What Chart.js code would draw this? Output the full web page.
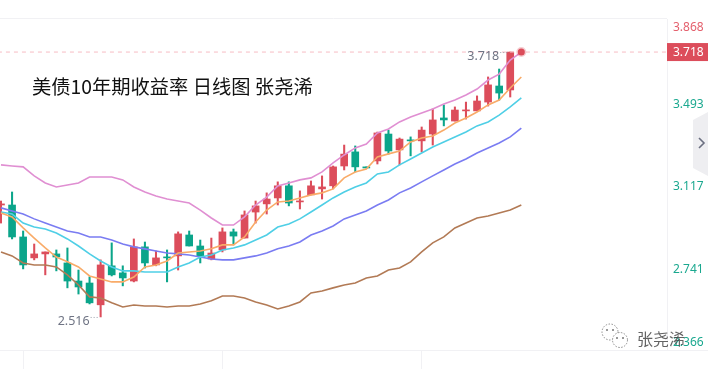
<!DOCTYPE html>
<html><head><meta charset="utf-8">
<style>html,body{margin:0;padding:0;background:#fff;overflow:hidden}canvas{display:block}</style>
<script src="https://cdn.jsdelivr.net/npm/chart.js@4"></script>
</head><body><canvas id="c" width="708" height="369"></canvas>
<script>
const titleText = '美债10年期收益率 日线图 张尧浠';
const watermarkText = '张尧浠';
const tickValues = [3.868, 3.493, 3.117, 2.741, 2.366];
const dateTicks = [2, 20, 38];
const lastPrice = 3.718;
const lowPrice = 2.516;
const opens = [3.024,3.024,2.879,2.784,2.802,2.802,2.761,2.679,2.670,2.571,2.748,2.716,2.679,2.834,2.752,2.788,2.793,2.888,2.838,2.779,2.820,2.902,2.874,2.992,3.029,3.056,3.111,3.038,3.070,3.097,3.111,3.201,3.265,3.197,3.224,3.346,3.274,3.319,3.315,3.346,3.419,3.405,3.451,3.451,3.491,3.564,3.546];
const closes = [3.029,2.879,2.752,2.802,2.811,2.788,2.679,2.652,2.580,2.752,2.707,2.693,2.834,2.761,2.784,2.784,2.893,2.838,2.793,2.806,2.902,2.883,2.979,3.020,3.051,3.111,3.033,3.042,3.111,3.106,3.197,3.255,3.197,3.192,3.351,3.269,3.323,3.315,3.364,3.410,3.410,3.455,3.455,3.496,3.569,3.532,3.718];
const highs = [3.042,3.083,2.906,2.847,2.811,2.820,2.829,2.729,2.698,2.775,2.852,2.748,2.870,2.856,2.815,2.820,2.902,2.906,2.865,2.874,2.920,2.915,2.997,3.042,3.079,3.129,3.129,3.088,3.133,3.156,3.201,3.296,3.292,3.197,3.355,3.364,3.328,3.333,3.378,3.460,3.478,3.469,3.491,3.519,3.605,3.641,3.718];
const lows = [2.942,2.870,2.734,2.775,2.707,2.725,2.648,2.620,2.575,2.516,2.702,2.657,2.675,2.738,2.748,2.675,2.729,2.838,2.761,2.775,2.811,2.843,2.874,2.942,2.983,3.024,3.020,3.006,3.070,3.051,3.097,3.183,3.174,3.192,3.210,3.255,3.206,3.247,3.265,3.296,3.383,3.405,3.414,3.451,3.473,3.500,3.514];
const upperBand = [3.206,3.201,3.197,3.156,3.124,3.106,3.115,3.124,3.151,3.151,3.151,3.138,3.106,3.083,3.065,3.051,3.042,3.033,3.001,2.965,2.933,2.933,2.970,3.024,3.060,3.110,3.124,3.138,3.147,3.174,3.215,3.251,3.283,3.301,3.351,3.369,3.401,3.423,3.442,3.460,3.482,3.500,3.523,3.550,3.591,3.618,3.682,3.718];
const ma5 = [2.988,2.970,2.920,2.874,2.829,2.788,2.766,2.743,2.702,2.688,2.675,2.675,2.697,2.743,2.752,2.770,2.806,2.811,2.815,2.825,2.843,2.843,2.879,2.947,3.001,3.038,3.042,3.056,3.070,3.079,3.097,3.147,3.174,3.187,3.242,3.256,3.269,3.310,3.328,3.337,3.364,3.396,3.419,3.446,3.478,3.500,3.555,3.605];
const ma10 = [2.992,2.983,2.942,2.924,2.915,2.897,2.870,2.838,2.802,2.770,2.743,2.725,2.725,2.720,2.720,2.720,2.743,2.761,2.788,2.797,2.820,2.829,2.843,2.865,2.888,2.924,2.938,2.961,2.992,3.024,3.056,3.083,3.106,3.124,3.165,3.174,3.206,3.233,3.260,3.287,3.310,3.333,3.355,3.383,3.401,3.432,3.469,3.510];
const ma20 = [3.011,2.997,2.983,2.961,2.942,2.924,2.906,2.897,2.879,2.879,2.865,2.847,2.834,2.825,2.815,2.806,2.802,2.797,2.788,2.779,2.775,2.775,2.784,2.793,2.806,2.825,2.838,2.856,2.888,2.906,2.929,2.961,2.979,2.997,3.024,3.047,3.079,3.101,3.129,3.156,3.183,3.210,3.233,3.260,3.283,3.305,3.333,3.373];
const lowerBand = [2.811,2.793,2.761,2.752,2.752,2.743,2.707,2.661,2.607,2.602,2.580,2.561,2.570,2.566,2.566,2.561,2.566,2.566,2.575,2.589,2.611,2.611,2.602,2.584,2.570,2.552,2.566,2.584,2.625,2.634,2.648,2.661,2.670,2.693,2.702,2.729,2.738,2.766,2.811,2.852,2.879,2.920,2.942,2.965,2.974,2.988,3.001,3.024];

const RED = '#dc4d5b', GREEN = '#0ba58a', TEAL = '#1aa88f', GRAY = '#6f7484', EDGE = '#f1f1f4';
const colors = opens.map((o, i) => closes[i] >= o ? RED : GREEN);
const toXY = arr => arr.map((y, x) => ({x, y}));
const lineDs = (data, color) => ({type:'line', data:toXY(data), borderColor:color, borderWidth:1.6, pointRadius:0, tension:0, order:1});

const decor = {
  id:'decor',
  beforeDraw(c){
    const x = c.ctx, a = c.chartArea;
    x.save();
    x.strokeStyle = EDGE; x.lineWidth = 1;
    x.beginPath(); x.moveTo(0, a.top - .5); x.lineTo(a.right, a.top - .5);
    x.moveTo(0, a.bottom + .5); x.lineTo(708, a.bottom + .5); x.stroke();
    x.restore();
  },
  afterDraw(c){
    const x = c.ctx, ys = c.scales.y, xs = c.scales.x;
    x.save();
    // title
    x.fillStyle = '#111'; x.textBaseline = 'middle'; x.textAlign = 'left';
    x.font = '19.3px "Noto Sans CJK SC"';
    x.fillText(titleText, 32, 87);
    // price tag
    const py = ys.getPixelForValue(lastPrice);
    x.fillStyle = RED; x.fillRect(667, py - 9, 41, 18);
    x.fillStyle = '#fff'; x.font = '12px "Noto Sans"';
    x.fillText(lastPrice.toFixed(3), 673, py + .5);
    // high / low notes
    x.fillStyle = GRAY; x.font = '12.5px "Noto Sans"'; x.textAlign = 'right';
    const hx = xs.getPixelForValue(46), lx = xs.getPixelForValue(9), ly = ys.getPixelForValue(lowPrice);
    x.fillText(lastPrice.toFixed(3), hx - 11, py + 4);
    x.fillText(lowPrice.toFixed(3), lx - 11, ly + 4);
    x.strokeStyle = '#9a9eaa'; x.lineWidth = 1; x.setLineDash([1, 2]);
    x.beginPath(); x.moveTo(hx - 10, py + .5); x.lineTo(hx - 1, py + .5);
    x.moveTo(lx - 10, ly + .5); x.lineTo(lx - 1, ly + .5); x.stroke();
    x.setLineDash([]);
    // side handle
    x.fillStyle = '#eeeef1';
    x.beginPath(); x.moveTo(708, 112); x.lineTo(693, 120); x.lineTo(693, 168); x.lineTo(708, 176); x.closePath(); x.fill();
    x.strokeStyle = '#6b6f80'; x.lineWidth = 1.6;
    x.beginPath(); x.moveTo(699, 138); x.lineTo(704, 143); x.lineTo(699, 148); x.stroke();
    // watermark
    x.strokeStyle = '#8a8a8a'; x.lineWidth = 1; x.setLineDash([1.5, 1.5]);
    x.beginPath(); x.arc(610, 332, 8, 0, Math.PI * 2); x.stroke();
    x.fillStyle = '#fff';
    x.beginPath(); x.arc(620, 340, 7.5, 0, Math.PI * 2); x.fill(); x.stroke();
    x.setLineDash([]);
    x.fillStyle = '#777';
    [[607,330],[613,330],[617,338],[623,338]].forEach(p => { x.beginPath(); x.arc(p[0], p[1], 1, 0, Math.PI * 2); x.fill(); });
    x.fillStyle = 'rgba(60,60,60,.8)'; x.textAlign = 'left';
    x.font = '16px "Noto Sans CJK SC"';
    x.fillText(watermarkText, 637, 339);
    x.restore();
  }
};

new Chart(document.getElementById('c'), {
  type:'bar',
  plugins:[decor],
  data:{datasets:[
    lineDs(upperBand, '#e08fd2'),
    lineDs(ma5, '#f9ab68'),
    lineDs(ma10, '#4fcfe6'),
    lineDs(ma20, '#7a7cf2'),
    lineDs(lowerBand, '#b27a55'),
    {type:'line', data:[{x:-1,y:lastPrice},{x:61,y:lastPrice}], borderColor:'#f7bcc4', borderWidth:1, borderDash:[4,4], pointRadius:0, order:3},
    {type:'line', data:[{x:47,y:lastPrice}], showLine:false, pointRadius:3.5, pointBackgroundColor:RED, pointBorderColor:'rgba(220,77,91,.28)', pointBorderWidth:3, order:0},
    {data:opens.map((o,i)=>({x:i,y:[o,closes[i]]})), backgroundColor:colors, barThickness:7, minBarLength:1, grouped:false, order:4},
    {data:lows.map((l,i)=>({x:i,y:[l,highs[i]]})), backgroundColor:colors, barThickness:1.4, grouped:false, order:5}
  ]},
  options:{
    responsive:false, animation:false, events:[],
    layout:{autoPadding:false, padding:{top:19,left:0,right:0,bottom:0}},
    plugins:{legend:{display:false},tooltip:{enabled:false},title:{display:false}},
    scales:{
      x:{type:'linear', min:-0.09, max:60.16, offset:false,
        afterBuildTicks(s){ s.ticks = dateTicks.map(value=>({value})); },
        afterFit(s){ s.height = 19; s.paddingLeft = 0; s.paddingRight = 0; },
        grid:{drawOnChartArea:false, drawTicks:true, tickLength:19, tickColor:EDGE, offset:false},
        border:{color:EDGE},
        ticks:{autoSkip:false, maxRotation:0, callback:()=>'' , padding:0}
      },
      y:{type:'linear', position:'right', min:2.366, max:3.868,
        afterBuildTicks(s){ s.ticks = tickValues.map(value=>({value})); },
        afterFit(s){ s.width = 41; s.paddingTop = 0; s.paddingBottom = 0; },
        grid:{drawOnChartArea:false, drawTicks:false},
        border:{color:EDGE},
        ticks:{
          padding:6, autoSkip:false, labelOffset:2.5,
          color:c=>c.tick && c.tick.value > lastPrice ? '#e4606d' : TEAL,
          font:c=>{ const v=c.tick&&c.tick.value; return {family:'"Noto Sans"', size:12, lineHeight: v===3.868?'13px' : v===2.366?'20px' : '16px'}; },
          callback(v){
            const t = (+v).toFixed(3);
            if (t==='3.868') return ['', t];
            if (t==='2.366') return [t, ''];
            return t;
          }
        }
      }
    }
  }
});
</script></body></html>
